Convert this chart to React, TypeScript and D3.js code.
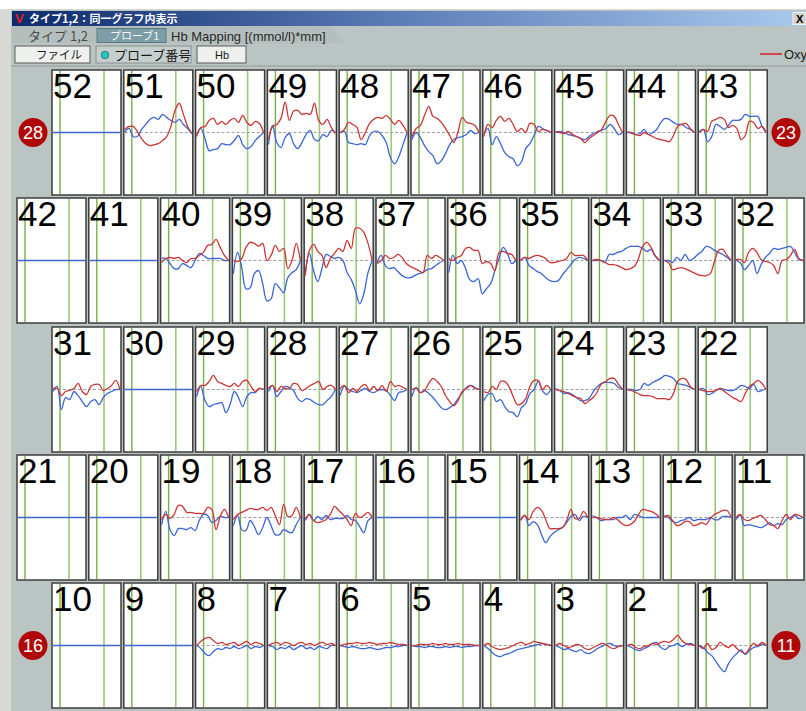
import React from "react";
import * as d3 from "d3";

// ---------- DATA ----------
const rowChannels: number[][] = [
  [52, 51, 50, 49, 48, 47, 46, 45, 44, 43],
  [42, 41, 40, 39, 38, 37, 36, 35, 34, 33, 32],
  [31, 30, 29, 28, 27, 26, 25, 24, 23, 22],
  [21, 20, 19, 18, 17, 16, 15, 14, 13, 12, 11],
  [10, 9, 8, 7, 6, 5, 4, 3, 2, 1],
];

const emptyChannels: number[] = [52, 42, 41, 30, 21, 20, 16, 15, 10, 9];

// Oxy-Hb (red), values in arbitrary Hb units, 17 samples across the task window
const oxy: { [ch: number]: number[] } = {
  51: [3, 6, 6, 1, -6, -11, -13, -12, -11, -8, -4, 6, 22, 29, 18, 6, -1],
  50: [-4, 5, 6, 12, 14, 8, 11, 8, 12, 14, 10, 17, 10, 7, 11, 9, 0],
  49: [-7, 6, 8, 14, 30, 12, 21, 22, 18, 19, 18, 29, 12, 8, 13, 5, -1],
  48: [0, 3, 10, 8, 5, -7, 0, 9, 13, 15, 14, 17, 13, 8, 12, 7, 0],
  47: [-4, 4, 7, 17, 26, 16, 14, 10, 4, -3, -10, 1, 15, 10, 9, 7, 0],
  46: [-4, 8, 5, 12, 16, 11, 14, 8, 1, 4, 0, 9, 8, 1, 3, 2, 0],
  45: [1, 0, -1, 1, -2, -4, -6, -10, -6, -3, 0, 3, 11, 17, 16, 8, 0],
  44: [1, -1, -2, -3, 0, -2, -4, -6, -7, -8, -9, -3, 6, 8, 9, 4, 0],
  43: [0, 3, 1, 11, 13, 15, 13, 5, 7, 4, -7, -3, 11, 10, 4, 6, 0],
  40: [-2, 2, 3, 2, 3, 0, -2, 2, 2, 5, 8, 15, 16, 21, 13, 5, 0],
  39: [0, -1, 2, 13, 18, 17, 14, 17, 0, 5, 15, 9, 12, -8, 0, 17, 0],
  38: [-15, 10, 16, 9, 5, -7, 2, 7, 12, 9, 20, 12, 32, 32, 28, 17, 0],
  37: [-3, 0, 5, 2, 3, 6, 3, -3, -6, -8, -10, -12, 5, 2, 5, 3, 0],
  36: [2, 0, 3, 5, 12, 13, 10, 10, -3, -1, -3, -10, 8, 9, 7, 6, 0],
  35: [0, 3, 2, 4, 5, 4, 2, -2, -2, -1, 0, 2, 8, 5, 5, 5, 0],
  34: [0, 1, 0, -2, -4, -4, -5, -7, -9, -8, -6, 2, 14, 18, 13, 5, 0],
  33: [0, -2, -9, -8, -7, -8, -10, -12, -14, -15, -15, -13, -1, 10, 11, 5, 0],
  32: [1, 1, -2, 8, 12, 8, 1, -1, -2, -5, -13, 0, 1, 5, 11, 2, 0],
  31: [1, 1, -6, -2, -1, 1, 6, -2, -5, 3, 5, 5, -1, 1, 4, 9, 0],
  29: [-2, 4, 4, 8, 14, 8, 6, 4, 3, 6, 3, 8, 9, 3, -2, 1, 0],
  28: [1, 4, -2, 3, 1, 1, 6, 5, -1, 1, 4, 6, 8, 0, 3, 4, 0],
  27: [1, 4, -3, 1, -2, 3, 5, -1, 3, -1, 4, -2, 8, 3, 4, 2, 0],
  26: [0, 1, -3, -1, 6, 11, 8, 3, -6, -12, -16, -11, -2, 1, 4, 1, 0],
  25: [-2, -3, 3, 0, 8, 8, 3, -7, -15, -14, -9, 3, 9, 9, 0, 4, 0],
  24: [0, -1, -2, -4, -6, -8, -9, -14, -11, -8, -2, 6, 8, 11, 11, 5, 0],
  23: [0, -1, -3, -5, -6, -6, -7, -9, -9, -9, -10, -4, 8, 11, 10, 3, 0],
  22: [0, -1, -2, -2, -1, 1, -2, -5, -8, -10, -12, -4, 3, 6, 9, 6, 0],
  19: [-2, 3, -1, 3, 12, 11, 5, 5, 4, 4, 4, 10, 8, -12, 1, 8, 0],
  18: [-2, 3, 5, 7, 9, 8, 8, 10, 7, 10, 2, -7, 13, 1, 2, 10, 0],
  17: [-2, 3, -3, -5, -4, -2, 3, 11, 7, 3, -2, -8, 4, 0, 2, 5, 0],
  14: [-3, 2, -2, 6, 10, 7, -2, -11, -11, -11, -10, -3, 8, -1, -1, 6, 0],
  13: [0, 0, -1, -2, -2, 0, -2, -6, -8, -7, -4, 3, 8, 7, 6, 4, 0],
  12: [0, 2, -3, -8, -7, -4, -4, -8, -7, -5, -7, -1, 3, 5, 7, 7, 0],
  11: [0, 3, -2, -3, -1, 1, 2, -2, -7, -8, -11, -3, 3, -2, 3, 2, 0],
  8: [0, 4, 7, 8, 5, 2, 3, 1, 2, 3, 0, 2, 4, 1, 3, 2, 0],
  7: [0, 2, 3, 1, 3, 2, 0, 2, 3, 1, 2, 0, 2, 3, 1, 2, 0],
  6: [0, 1, 2, 2, 3, 2, 2, 3, 2, 1, 2, 2, 3, 2, 1, 1, 0],
  5: [0, 0, 1, 1, 1, 2, 1, 1, 2, 1, 1, 2, 1, 1, 1, 0, 0],
  4: [0, 2, -1, -3, -4, -3, -2, 0, 2, 3, 1, 2, 4, 3, 2, 1, 0],
  3: [0, 2, 0, -2, -1, 1, 0, -3, -4, -2, 0, 2, 1, -2, -3, -1, 0],
  2: [0, 1, -2, -3, -1, 0, 2, 1, 3, 4, 3, 6, 10, 5, 2, 1, 0],
  1: [0, -3, 2, -4, -2, 3, 0, -2, 1, -3, -6, -8, -3, 2, 0, 3, 0],
};

// Deoxy-Hb (blue)
const deoxy: { [ch: number]: number[] } = {
  51: [0, 4, -4, -4, 3, 8, 13, 15, 13, 18, 15, 12, 10, 13, 8, 4, -1],
  50: [-2, 4, -6, -18, -17, -16, -11, -12, -12, -8, -3, -12, -16, -14, -8, -4, 0],
  49: [-12, 7, -10, -15, -5, -1, -11, -16, -10, -2, 2, -7, -8, -2, -4, 2, 0],
  48: [0, 1, -10, -11, -12, -11, -12, -3, 1, 1, -3, -10, -25, -31, -24, -12, 0],
  47: [-7, 0, -5, -13, -19, -23, -31, -28, -21, -12, -7, -5, -4, -2, 2, -1, 0],
  46: [-2, 4, -12, -4, -11, -20, -24, -26, -33, -29, -16, -11, -3, 6, 4, 2, 0],
  45: [0, 1, 0, -2, -3, -4, -6, -7, -4, -1, 1, 2, 4, 8, 4, -2, 0],
  44: [0, 0, -2, -1, 3, -2, 0, 3, 10, 14, 13, 10, 8, 8, 5, 3, 0],
  43: [1, 3, -9, -4, 8, 6, 3, 7, 12, 12, 13, 18, 16, 16, 16, 6, 0],
  40: [2, 2, -3, -8, -8, -3, -5, -7, 0, 7, 5, 2, 2, 2, 2, 0, 0],
  39: [-13, 8, -7, -28, -27, -13, -10, -23, -40, -38, -23, -27, -32, -17, -12, -9, 0],
  38: [-13, 7, -10, -21, -8, 6, 4, 2, 3, 0, -12, -19, -30, -43, -33, -12, 0],
  37: [-2, 5, -5, -8, -7, -11, -15, -17, -17, -15, -13, -12, -9, -8, -5, -2, 0],
  36: [-12, 5, -3, 0, -8, -19, -21, -18, -33, -28, -23, -10, 2, 13, 7, -3, 0],
  35: [0, 3, -5, -8, -11, -13, -17, -20, -21, -20, -14, -9, -4, 1, 3, 2, 0],
  34: [0, 0, 0, -2, 6, 6, 8, 9, 12, 14, 14, 14, 12, 9, 11, 4, 0],
  33: [0, 0, -2, 3, 0, 6, 0, 2, 6, 9, 14, 13, 10, 8, 6, 3, 0],
  32: [0, -2, -9, -5, 0, -13, -4, 3, 7, 12, 11, 12, 13, 14, 8, 1, 0],
  31: [-2, 3, -20, -8, -10, -2, -6, -12, -17, -12, -10, -15, -8, -4, -2, 0, 0],
  29: [-7, 3, -11, -17, -15, -14, -13, -23, -15, -2, -8, -17, -7, -3, -3, 1, 0],
  28: [-2, 4, -7, -2, 3, 2, -1, -9, -12, -9, -10, -13, -15, -15, -11, -7, 0],
  27: [-6, 3, 0, -2, -3, -1, 1, -2, -3, -1, 0, -1, -6, -11, -3, -2, 0],
  26: [-7, 2, -3, -1, -4, -8, -13, -18, -20, -18, -15, -9, -3, 2, 4, 2, 0],
  25: [-11, -5, -4, -12, -10, -17, -22, -23, -27, -18, -14, -4, 0, 8, -1, -5, 0],
  24: [1, -1, -4, -3, -5, -8, -11, -11, -9, -2, 3, 6, 7, 7, 6, 2, 0],
  23: [0, 0, -1, 0, 6, 4, 7, 9, 11, 14, 13, 11, 6, 5, 4, 2, 0],
  22: [0, 1, -5, -4, -1, 1, 0, -1, -1, 1, 4, 3, 1, 5, -2, -1, 1],
  19: [-7, 6, -12, -18, -11, -11, -12, -10, -13, -3, 3, 2, -5, -3, 1, 0, 0],
  18: [-8, 2, -12, -13, -3, -9, -17, -10, 0, -8, -17, -17, -12, -14, -15, -7, 0],
  17: [-3, 3, -3, 1, -2, 2, -2, -1, -1, -1, 2, -2, -3, -9, -15, -3, 0],
  14: [-2, 2, -8, -4, -7, -17, -25, -19, -15, -12, -10, -5, 1, 3, -3, 1, 0],
  13: [2, 0, -3, -2, -2, -2, 0, 0, 2, -2, 3, 2, 0, 0, 0, 0, 0],
  12: [2, 0, -4, -5, -3, -2, 0, -3, -2, -2, -2, 0, -2, -2, 1, 1, 0],
  11: [-2, 2, -8, -7, -8, -9, -10, -8, -5, -8, -6, -7, -2, 0, 2, -1, 0],
  8: [0, -3, -8, -10, -6, -3, -4, -2, -3, -1, -3, -2, 0, -3, -1, -2, 0],
  7: [0, -1, -4, -2, -3, -1, -4, -2, 0, -3, -2, -4, -1, -2, -3, 0, 0],
  6: [0, -1, -2, -1, -2, -3, -3, -2, -3, -4, -3, -2, -2, -1, -1, 0, 0],
  5: [0, -1, -1, -2, -1, -1, -2, -2, -1, -2, -1, -1, -2, -1, -1, 0, 0],
  4: [0, -3, -7, -10, -11, -9, -8, -6, -4, -3, -2, -1, 0, 1, 2, 1, 0],
  3: [0, -2, -4, -3, -5, -6, -4, -7, -8, -6, -3, -1, 1, 2, 0, -1, 0],
  2: [0, -2, -4, -5, -3, -1, 2, 3, -2, -4, -1, 0, 2, -1, 1, 2, 0],
  1: [0, -2, -7, -10, -16, -22, -26, -18, -12, -8, -4, -9, -5, -2, -1, 1, 0],
};

const sampleCount = 17;
const yDomain: [number, number] = [-62, 62];

// Probe corner labels
const cornerLabels: string[] = ["28", "23", "16", "11"];
const cornerRow: number[] = [0, 0, 4, 4];
const cornerSide: string[] = ["left", "right", "left", "right"];

// ---------- LAYOUT ----------
const W = 806;
const H = 711;
const rowLeft = [52, 17, 52, 17, 52];
const rowTop = [70, 198, 327, 455, 583];
const PITCH = 71.8;
const PW = 69;
const PH = 125;

const fontUI = "'Noto Sans CJK JP', 'Noto Sans', sans-serif";
const fontNum = "'Liberation Sans', Arial, sans-serif";

function Panel({ ch, x0, y0 }: { ch: number; x0: number; y0: number }) {
  const xs = d3.scaleLinear().domain([0, sampleCount - 1]).range([x0 + 1, x0 + PW - 1]);
  const ys = d3.scaleLinear().domain(yDomain).range([y0 + PH, y0]);
  const line = d3
    .line<number>()
    .x((_, i) => xs(i))
    .y((d) => ys(d))
    .curve(d3.curveCatmullRom.alpha(0.5));
  const empty = emptyChannels.includes(ch);
  const mk = [x0 + 8, x0 + 52];
  return (
    <g>
      <rect x={x0} y={y0} width={PW} height={PH} fill="#ffffff" stroke="#3c3c3c" strokeWidth={1.5} />
      <line x1={mk[0]} x2={mk[0]} y1={y0 + 1} y2={y0 + PH - 1} stroke="#78b045" strokeWidth={1.4} />
      <line x1={mk[1]} x2={mk[1]} y1={y0 + 1} y2={y0 + PH - 1} stroke="#9cc97a" strokeWidth={1.6} />
      {empty ? (
        <line x1={x0 + 1} x2={x0 + PW - 1} y1={ys(0)} y2={ys(0)} stroke="#3c66d6" strokeWidth={1.3} />
      ) : (
        <g>
          <line
            x1={x0 + 1}
            x2={x0 + PW - 1}
            y1={ys(0)}
            y2={ys(0)}
            stroke="#a0a0a0"
            strokeWidth={1}
            strokeDasharray="3,2"
          />
          <path d={line(deoxy[ch]) || ""} fill="none" stroke="#3c66d6" strokeWidth={1.3} />
          <path d={line(oxy[ch]) || ""} fill="none" stroke="#cc3535" strokeWidth={1.3} />
        </g>
      )}
      <text x={x0 + 1} y={y0 + 28} fontFamily={fontNum} fontSize={35} fill="#000">
        {ch}
      </text>
    </g>
  );
}

export default function App() {
  return (
    <div style={{ position: "fixed", left: 0, top: 0, width: W, height: H }}>
      <svg width={W} height={H} style={{ display: "block" }}>
        <defs>
          <linearGradient id="tb" x1="0" x2="1" y1="0" y2="0">
            <stop offset="0" stopColor="#0c2a6c" />
            <stop offset="0.5" stopColor="#5f7fb8" />
            <stop offset="1" stopColor="#a8caee" />
          </linearGradient>
        </defs>
        <rect x={0} y={0} width={W} height={H} fill="#ffffff" />
        <rect x={0} y={9} width={12} height={H - 9} fill="#d9d9d6" />
        {/* window body */}
        <rect x={11} y={9} width={W - 11} height={H - 9} fill="#bac4c2" />
        <line x1={11} x2={W} y1={9.5} y2={9.5} stroke="#d8d6d0" />
        {/* title bar */}
        <rect x={12} y={11} width={W - 12} height={15} fill="url(#tb)" />
        <text x={15} y={23} fontFamily={fontNum} fontWeight="bold" fontSize={13} fill="#e02020">
          V
        </text>
        <text x={29} y={22.5} fontFamily={fontUI} fontWeight="bold" fontSize={11} fill="#ffffff">
          タイプ1,2：同一グラフ内表示
        </text>
        <rect x={793} y={12.5} width={13} height={12} fill="#d4d0c8" stroke="#ffffff" strokeWidth={0.8} />
        <text x={796} y={23} fontFamily={fontNum} fontWeight="bold" fontSize={11} fill="#000">
          X
        </text>
        {/* tab row */}
        <polygon points="12,26 330,26 345,43 12,43" fill="#b4bfbd" />
        <text x={28} y={40.5} fontFamily={fontUI} fontSize={13} fill="#4a4a4a">
          タイプ 1,2
        </text>
        <rect x={97} y={28.5} width={69} height={14} fill="#7d9ea7" stroke="#5d7a82" strokeWidth={1} />
        <text x={110} y={40} fontFamily={fontUI} fontSize={11} fill="#f4f8f8">
          プローブ1
        </text>
        <text x={171} y={40.5} fontFamily={fontNum} fontSize={13} fill="#2a2a2a">
          Hb Mapping [(mmol/l)*mm]
        </text>
        {/* button row */}
        <rect x={15} y={46} width={75} height={17} fill="#eef0ee" stroke="#5a5a5a" strokeWidth={1} />
        <text x={36} y={59} fontFamily={fontUI} fontSize={11.5} fill="#1a1a1a">
          ファイル
        </text>
        <rect x={96} y={46} width={95} height={17} fill="#c6cfcd" stroke="#8a9290" strokeWidth={1} />
        <circle cx={105} cy={55} r={3.8} fill="#20c8c0" stroke="#2a6a6a" strokeWidth={0.8} />
        <text x={114} y={60} fontFamily={fontUI} fontSize={13} fill="#1a1a1a">
          プローブ番号
        </text>
        <rect x={197} y={46} width={49} height={17} fill="#eef0ee" stroke="#5a5a5a" strokeWidth={1} />
        <text x={215} y={59} fontFamily={fontNum} fontSize={11} fill="#1a1a1a">
          Hb
        </text>
        <line x1={760} x2={782} y1={54} y2={54} stroke="#e01010" strokeWidth={1.4} />
        <text x={784} y={59} fontFamily={fontNum} fontSize={13} fill="#1a1a1a">
          Oxy
        </text>
        <line x1={11} x2={W} y1={66} y2={66} stroke="#a7b0ae" strokeWidth={2} />
        {/* panels */}
        {rowChannels.map((row, r) =>
          row.map((ch, i) => (
            <Panel key={ch} ch={ch} x0={rowLeft[r] + i * PITCH} y0={rowTop[r]} />
          ))
        )}
        {/* corner probe labels */}
        {cornerLabels.map((lab, i) => {
          const cy = rowTop[cornerRow[i]] + PH / 2;
          const cx = cornerSide[i] === "left" ? 33 : 786;
          return (
            <g key={lab}>
              <circle cx={cx} cy={cy} r={14.5} fill="#b00808" />
              <text
                x={cx}
                y={cy + 6}
                textAnchor="middle"
                fontFamily={fontNum}
                fontSize={18}
                fill="#ffffff"
              >
                {lab}
              </text>
            </g>
          );
        })}
      </svg>
    </div>
  );
}
